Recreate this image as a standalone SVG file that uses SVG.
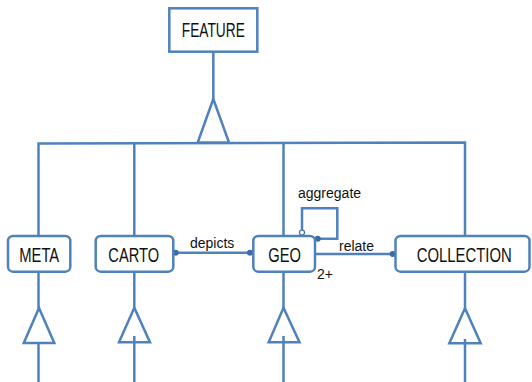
<svg xmlns="http://www.w3.org/2000/svg" width="532" height="382" viewBox="0 0 532 382">
<style>
.ln{fill:none;stroke:#4f81bd;stroke-width:2.5}
.box{fill:#fff;stroke:#4f81bd;stroke-width:2.5}
.tri{fill:#fff;stroke:#4f81bd;stroke-width:2.5;stroke-linejoin:miter}
.nt{font-family:"Liberation Sans",Arial,sans-serif;font-size:20px;fill:#111;text-anchor:middle}
.lb{font-family:"Liberation Sans",Arial,sans-serif;font-size:14px;fill:#111}
.dot{fill:#3e6aa3}
.odot{fill:#fff;stroke:#3e6aa3;stroke-width:1.2}
</style>
<rect width="532" height="382" fill="#fff"/>
<g id="connectors">
  <polyline class="ln" points="213.3,52 213.3,99"/>
  <polyline class="ln" points="38.5,236 38.5,143.5 465,142.5 465,236"/>
  <line class="ln" x1="134.3" y1="143.3" x2="134.3" y2="236"/>
  <line class="ln" x1="283.5" y1="143" x2="283.5" y2="236"/>
  <polygon class="tri" points="213.3,99 229,142.5 197.7,142.5"/>
  <line class="ln" x1="38.5" y1="272" x2="38.5" y2="308"/>
  <polygon class="tri" points="39,308 54.3,343 23.8,343"/>
  <line class="ln" x1="38.5" y1="343" x2="38.5" y2="382"/>
  <line class="ln" x1="134.3" y1="272" x2="134.3" y2="308"/>
  <polygon class="tri" points="134.3,307.7 150,342.3 119,342.3"/>
  <line class="ln" x1="134.3" y1="336" x2="134.3" y2="382"/>
  <line class="ln" x1="283.5" y1="272" x2="283.5" y2="308"/>
  <polygon class="tri" points="283.5,307.7 299.5,342.3 268.7,342.3"/>
  <line class="ln" x1="283.5" y1="336" x2="283.5" y2="382"/>
  <line class="ln" x1="465" y1="272" x2="465" y2="308"/>
  <polygon class="tri" points="465,308.3 480.7,343.3 449.3,343.3"/>
  <line class="ln" x1="465" y1="339" x2="465" y2="382"/>
  <line class="ln" x1="173.3" y1="252.7" x2="253.3" y2="252.7"/>
  <circle class="dot" cx="175.7" cy="252.7" r="3"/>
  <circle class="dot" cx="250" cy="252.7" r="3"/>
  <text class="lb" x="190" y="248">depicts</text>
  <line class="ln" x1="315" y1="254" x2="395.7" y2="254"/>
  <circle class="dot" cx="392.7" cy="254" r="3"/>
  <text class="lb" x="339" y="250.5">relate</text>
  <polyline class="ln" points="302,232 302,208.3 337.3,208.3 337.3,238.7 317.7,238.7"/>
  <circle class="odot" cx="302" cy="232.5" r="2.5"/>
  <circle class="dot" cx="317.7" cy="238.7" r="3"/>
  <text class="lb" x="298" y="198">aggregate</text>
  <text class="lb" x="317" y="279">2+</text>
</g>
<g id="FEATURE">
  <rect class="box" x="169.3" y="8.3" width="88" height="43.4"/>
  <text class="nt" x="213.3" y="37" textLength="63" lengthAdjust="spacingAndGlyphs">FEATURE</text>
</g>
<g id="META">
  <rect class="box" x="8" y="236" width="62.3" height="35.7" rx="5"/>
  <text class="nt" x="39.2" y="262" textLength="40" lengthAdjust="spacingAndGlyphs">META</text>
</g>
<g id="CARTO">
  <rect class="box" x="95.7" y="236" width="77.6" height="35.7" rx="5"/>
  <text class="nt" x="133.7" y="262" textLength="50.7" lengthAdjust="spacingAndGlyphs">CARTO</text>
</g>
<g id="GEO">
  <rect class="box" x="253.3" y="236" width="61.7" height="35.7" rx="5"/>
  <text class="nt" x="284.6" y="262" textLength="32.7" lengthAdjust="spacingAndGlyphs">GEO</text>
</g>
<g id="COLLECTION">
  <rect class="box" x="395.5" y="236" width="134" height="35.7" rx="5"/>
  <text class="nt" x="464.2" y="262" textLength="95" lengthAdjust="spacingAndGlyphs">COLLECTION</text>
</g>
</svg>
